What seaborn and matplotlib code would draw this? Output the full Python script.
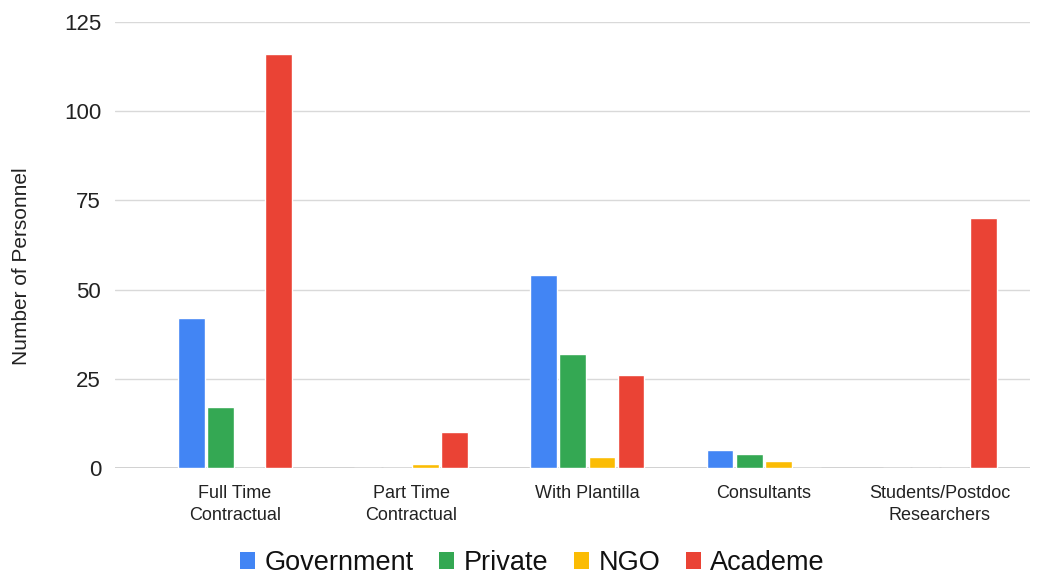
import matplotlib
matplotlib.use("Agg")
import matplotlib.pyplot as plt
import seaborn as sns
import pandas as pd
from matplotlib.patches import Patch

categories = ["Full Time\nContractual", "Part Time\nContractual", "With Plantilla",
              "Consultants", "Students/Postdoc\nResearchers"]
sectors = ["Government", "Private", "NGO", "Academe"]
government = [42, 0, 54, 5, 0]
private = [17, 0, 32, 4, 0]
ngo = [0, 1, 3, 2, 0]
academe = [116, 10, 26, 0, 70]
colors = ["#4285F4", "#34A853", "#FBBC04", "#EA4335"]

rows = []
for s, vals in zip(sectors, [government, private, ngo, academe]):
    for c, v in zip(categories, vals):
        rows.append({"Category": c, "Sector": s, "Value": v})
df = pd.DataFrame(rows)

sns.set_theme(style="white")
plt.rcParams["font.family"] = ["Liberation Sans", "DejaVu Sans"]

fig = plt.figure(figsize=(10.48, 5.77), dpi=100)
ax = fig.add_axes([0.1097, 0.189, 0.873, 0.773])

sns.barplot(data=df, x="Category", y="Value", hue="Sector", order=categories,
            hue_order=sectors, palette=colors, width=0.66, gap=0.08,
            legend=False, ax=ax, saturation=1, errorbar=None)

ax.set_ylim(0, 125)
ax.set_yticks([0, 25, 50, 75, 100, 125])
ax.set_xlim(-0.68, 4.51)
ax.yaxis.grid(True, color="#d9d9d9", linewidth=1)
ax.set_axisbelow(True)
for sp in ax.spines.values():
    sp.set_visible(False)
ax.axhline(0, color="#c8c8c8", linewidth=1.2, zorder=0.5)
ax.tick_params(axis="y", labelsize=16, length=0, pad=10, colors="#222222")
ax.tick_params(axis="x", labelsize=13, length=0, pad=12, colors="#222222")
for lbl in ax.get_xticklabels():
    lbl.set_linespacing(1.45)
ax.set_xlabel("")
ax.set_ylabel("Number of Personnel", fontsize=15, color="#222222", labelpad=20)
ax.yaxis.set_label_coords(-0.092, 0.453)

handles = [Patch(facecolor=c, edgecolor="none") for c in colors]
fig.legend(handles, sectors, loc="center", bbox_to_anchor=(0.508, 0.024),
           ncol=4, frameon=False, fontsize=19.5, handlelength=0.55, handleheight=0.55,
           handletextpad=0.35, columnspacing=0.95, labelcolor="#111111",
           borderpad=0.1)

fig.savefig("out.png", dpi=100)
